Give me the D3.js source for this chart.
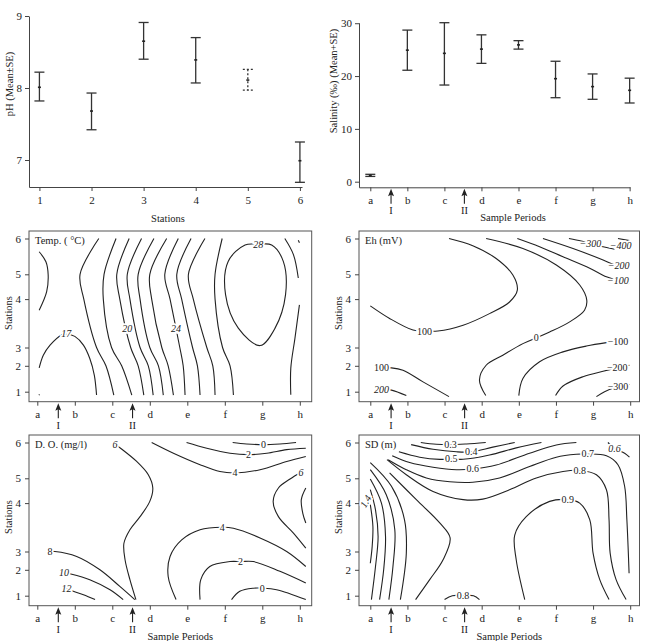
<!DOCTYPE html>
<html>
<head>
<meta charset="utf-8">
<script src="https://cdn.jsdelivr.net/npm/d3@7"></script>
<style>
	body { margin: 0; background: #fff; }
	svg { display: block; font-family: 'Liberation Serif', 'DejaVu Serif', serif; }
	.tick text { font-size: 11px; fill: #222; }
	.tick line, .domain { stroke: #444; }
	.clabel { font-size: 10px; fill: #222; stroke: #fff; stroke-width: 3.5px; paint-order: stroke; }
	.cline { fill: none; stroke: #222; stroke-width: 1.1; }
	.title { font-size: 10.5px; fill: #222; }
</style>
</head>
<body>
<svg width="646" height="641"></svg>
<script>

// ---- data ----
var stations = [1, 2, 3, 4, 5, 6];
var phMean = [8.01, 7.68, 8.65, 8.39, 8.11, 6.99];
var phHi = [8.22, 7.93, 8.91, 8.70, 8.26, 7.25];
var phLo = [7.82, 7.42, 8.40, 8.07, 7.97, 6.69];
var phDashed = [false, false, false, false, true, false];
var phTicks = [7, 8, 9];

var periods = ['a', 'b', 'c', 'd', 'e', 'f', 'g', 'h'];
var salMean = [1.2, 24.9, 24.3, 25.1, 25.9, 19.5, 18.0, 17.3];
var salHi = [1.4, 28.7, 30.1, 27.8, 26.7, 22.8, 20.4, 19.6];
var salLo = [1.0, 21.1, 18.3, 22.4, 25.1, 15.9, 15.6, 14.9];
var salTicks = [0, 10, 20, 30];

// sampling events marked with arrows (position in period units)
var events = [{ at: 0.56, label: 'I' }, { at: 2.54, label: 'II' }];

// Temperature isotherms 18..27 : period where each line crosses these stations
var tempRows = [6, 5, 4, 3, 2, 0.87];
var tempBands = [
	{ level: 18, p: [1.64, 1.14, 1.24, 1.58, 1.83, 2.04] },
	{ level: 19, p: [2.10, 1.78, 1.76, 1.98, 2.25, 2.52] },
	{ level: 20, p: [2.45, 2.12, 2.20, 2.49, 2.69, 2.84] },
	{ level: 21, p: [2.78, 2.40, 2.47, 2.74, 2.96, 3.09] },
	{ level: 22, p: [3.11, 2.69, 2.74, 3.00, 3.23, 3.36] },
	{ level: 23, p: [3.45, 3.00, 3.05, 3.32, 3.49, 3.63] },
	{ level: 24, p: [3.76, 3.40, 3.54, 3.80, 3.89, 3.94] },
	{ level: 25, p: [4.10, 3.72, 3.85, 4.14, 4.27, 4.34] },
	{ level: 26, p: [4.47, 4.03, 4.16, 4.52, 4.68, 4.74] },
	{ level: 27, p: [4.93, 4.74, 4.74, 4.94, 5.14, 5.23] }
];
var tempExtra = [
	[[0.05, 3.77], [0.25, 4.30], [0.29, 4.97], [0.23, 5.35], [0.05, 5.63]],
	[[0.05, 1.92], [0.16, 2.58], [0.34, 3.05], [0.65, 3.26], [0.77, 3.28], [1.0, 3.23], [1.23, 3.05], [1.40, 2.4], [1.52, 1.64], [1.58, 0.87]],
	[[6.60, 6.0], [6.83, 5.55], [6.96, 4.85]],
	[[6.99, 3.88], [6.87, 3.19], [6.76, 1.91], [6.76, 0.88]],
	[[0.04, 0.87], [0.06, 0.89]],
	[[6.96, 5.95], [6.99, 5.88]]
];
var tempLoop28 = [[5.89, 5.84], [5.54, 5.82], [5.09, 5.36], [5.02, 4.18], [5.36, 3.40], [5.94, 3.04], [6.34, 3.40], [6.62, 4.18], [6.56, 5.36], [6.25, 5.82]];
var tempLabels = [
	{ t: '17', p: 0.77, s: 3.28, it: true },
	{ t: '20', p: 2.40, s: 3.39, it: true },
	{ t: '24', p: 3.70, s: 3.39, it: true },
	{ t: '28', p: 5.89, s: 5.84, it: true }
];

// Eh isolines
var ehLines = [
	[[0, 3.86], [0.52, 3.6], [1.15, 3.36], [1.46, 3.34], [1.82, 3.34], [2.50, 3.46], [3.21, 3.70], [3.75, 3.94], [3.96, 4.36], [3.84, 4.97], [3.39, 5.44], [2.76, 5.80], [2.12, 6.0]],
	[[3.11, 0.85], [2.94, 1.45], [3.12, 2.03], [3.57, 2.58], [4.11, 3.08], [4.47, 3.2], [4.83, 3.32], [5.37, 3.53], [5.77, 3.77], [5.83, 3.98], [5.64, 4.57], [5.01, 5.26], [4.11, 5.72], [3.12, 6.0]],
	[[3.96, 6.0], [4.56, 5.77], [5.19, 5.49], [5.91, 5.17], [6.36, 4.9], [6.67, 4.75], [6.97, 4.62]],
	[[4.65, 6.0], [5.46, 5.72], [6.27, 5.40], [6.54, 5.28], [6.69, 5.24], [6.98, 5.19]],
	[[5.35, 6.0], [5.68, 5.93], [5.93, 5.85], [6.27, 5.77], [6.58, 5.70]],
	[[6.67, 6.0], [6.98, 5.94]],
	[[0.30, 1.92], [0.57, 1.92], [0.88, 1.83], [1.42, 1.38], [2.12, 0.81]],
	[[0.30, 1.1], [0.57, 1.06], [0.97, 0.85]],
	[[4.0, 0.85], [4.11, 1.51], [4.56, 2.22], [5.19, 2.76], [5.82, 3.03], [6.36, 3.10], [6.67, 3.13], [6.97, 3.15]],
	[[4.99, 0.85], [5.19, 1.22], [5.73, 1.58], [6.27, 1.79], [6.65, 1.92], [6.98, 2.03]],
	[[6.09, 0.81], [6.31, 1.0], [6.67, 1.19], [6.98, 1.28]]
];
var ehLabels = [
	{ t: '100', p: 1.46, s: 3.34 },
	{ t: '0', p: 4.47, s: 3.2 },
	{ t: '\u2212100', p: 6.67, s: 4.73, it: true },
	{ t: '\u2212200', p: 6.69, s: 5.24, it: true },
	{ t: '\u2212300', p: 5.93, s: 5.85, it: true },
	{ t: '\u2212400', p: 6.74, s: 5.80, it: true },
	{ t: '100', p: 0.30, s: 1.92 },
	{ t: '200', p: 0.30, s: 1.1, it: true },
	{ t: '\u2212100', p: 6.67, s: 3.13 },
	{ t: '\u2212200', p: 6.65, s: 1.92 },
	{ t: '\u2212300', p: 6.67, s: 1.19 }
];

// Dissolved oxygen isolines
var doLines = [
	[[2.12, 5.92], [2.22, 5.84], [2.65, 5.47], [2.96, 5.10], [3.08, 4.61], [3.00, 4.07], [2.74, 3.72], [2.47, 3.45], [2.31, 3.17], [2.34, 2.55], [2.47, 1.62], [2.63, 0.85]],
	[[3.05, 6.0], [3.63, 5.70], [4.34, 5.38], [4.87, 5.19], [5.27, 5.15], [5.94, 5.24], [6.65, 5.47], [7.16, 5.61]],
	[[3.98, 6.0], [4.52, 5.84], [5.14, 5.70], [5.63, 5.66], [6.12, 5.70], [6.65, 5.80], [7.16, 5.84]],
	[[5.21, 6.0], [5.58, 5.96], [6.03, 5.94], [6.47, 5.96], [6.90, 6.0]],
	[[7.16, 3.07], [6.83, 3.38], [6.43, 3.72], [6.29, 4.07], [6.43, 4.61], [6.74, 4.97], [7.03, 5.17]],
	[[7.16, 4.61], [7.04, 4.14], [7.08, 3.79], [7.16, 3.59]],
	[[3.70, 0.85], [3.49, 1.74], [3.54, 2.73], [3.85, 3.24], [4.34, 3.45], [4.93, 3.50], [5.23, 3.48], [5.94, 3.28], [6.65, 3.0], [7.16, 2.18]],
	[[4.34, 0.85], [4.36, 1.62], [4.60, 2.18], [5.14, 2.45], [5.42, 2.45], [5.76, 2.45], [6.47, 1.94], [7.16, 1.49]],
	[[5.18, 0.85], [5.40, 1.17], [5.76, 1.29], [6.0, 1.29], [6.38, 1.23], [7.16, 0.85]],
	[[0.34, 3.0], [0.47, 3.0], [1.05, 2.73], [1.67, 2.0], [2.20, 1.36], [2.60, 0.85]],
	[[0.71, 1.90], [0.87, 1.85], [1.40, 1.62], [1.94, 1.23], [2.29, 0.85]],
	[[0.78, 1.29], [0.96, 1.17], [1.23, 1.04], [1.54, 0.85]]
];
var doLabels = [
	{ t: '6', p: 2.07, s: 5.94, it: true },
	{ t: '4', p: 5.27, s: 5.15 },
	{ t: '2', p: 5.63, s: 5.66 },
	{ t: '0', p: 6.03, s: 5.94 },
	{ t: '6', p: 7.03, s: 5.17, it: true },
	{ t: '4', p: 4.93, s: 3.50 },
	{ t: '2', p: 5.42, s: 2.45 },
	{ t: '0', p: 6.0, s: 1.29 },
	{ t: '8', p: 0.34, s: 3.0 },
	{ t: '10', p: 0.71, s: 1.90, it: true },
	{ t: '12', p: 0.78, s: 1.29, it: true }
];

// Secchi depth isolines
var sdLines = [
	[[1.36, 6.0], [1.78, 5.95], [2.16, 5.94], [2.59, 5.96], [3.11, 6.0]],
	[[1.10, 5.94], [1.69, 5.81], [2.32, 5.74], [2.72, 5.74], [3.30, 5.87], [3.89, 6.0]],
	[[0.77, 5.74], [1.33, 5.59], [1.87, 5.53], [2.18, 5.54], [2.50, 5.53], [3.21, 5.65], [3.93, 5.85], [4.61, 6.0]],
	[[0.59, 5.63], [1.06, 5.44], [1.69, 5.31], [2.32, 5.24], [2.76, 5.26], [3.39, 5.37], [4.29, 5.70], [5.01, 5.93], [5.55, 6.0]],
	[[0.48, 5.52], [0.97, 5.24], [1.51, 5.01], [2.14, 4.86], [2.76, 4.84], [3.48, 5.01], [4.29, 5.33], [5.01, 5.59], [5.55, 5.67], [5.86, 5.68], [6.36, 5.63], [6.67, 5.38], [6.85, 4.68], [6.91, 3.66], [6.97, 1.87]],
	[[0.45, 5.52], [0.97, 5.10], [1.69, 4.47], [2.50, 4.14], [3.03, 4.16], [3.75, 4.54], [4.47, 5.01], [5.19, 5.19], [5.64, 5.22], [6.09, 5.10], [6.36, 4.54], [6.43, 3.66], [6.46, 2.91], [6.62, 1.62], [6.89, 0.85]],
	[[4.16, 0.85], [3.93, 2.55], [3.89, 3.34], [4.20, 3.72], [4.83, 4.07], [5.32, 4.14], [5.64, 4.0], [5.91, 3.66], [6.0, 2.91], [6.18, 1.62], [6.43, 0.85]],
	[[0.52, 5.15], [1.24, 4.14], [1.87, 3.59], [2.15, 3.28], [1.96, 2.55], [1.60, 1.62], [1.22, 0.85]],
	[[0.0, 5.44], [0.57, 4.68], [0.92, 3.66], [0.97, 2.91], [0.81, 0.85]],
	[[0.0, 5.24], [0.43, 4.34], [0.66, 3.45], [0.61, 2.18], [0.50, 0.85]],
	[[0.0, 4.97], [0.30, 4.0], [0.41, 3.31], [0.36, 2.0], [0.25, 0.85]],
	[[0.0, 4.54], [0.14, 3.86], [0.21, 3.31], [0.14, 2.18], [0.03, 0.85]],
	[[0.0, 3.97], [0.07, 3.52], [0.05, 3.10], [0.0, 2.36]],
	[[6.40, 6.0], [6.58, 5.84], [6.85, 5.70], [6.98, 5.59]],
	[[2.0, 0.85], [2.21, 1.0], [2.50, 1.0], [2.78, 1.0], [2.94, 0.85]]
];
var sdLabels = [
	{ t: '0.3', p: 2.16, s: 5.94 },
	{ t: '0.4', p: 2.72, s: 5.74 },
	{ t: '0.5', p: 2.18, s: 5.54 },
	{ t: '0.6', p: 2.76, s: 5.26 },
	{ t: '0.7', p: 5.86, s: 5.68 },
	{ t: '0.8', p: 5.64, s: 5.22 },
	{ t: '0.9', p: 5.32, s: 4.14 },
	{ t: '0.6', p: 6.58, s: 5.84, it: true },
	{ t: '0.8', p: 2.50, s: 1.0 },
	{ t: '1.4', p: -0.13, s: 4.07, rot: -60, it: true }
];

// ---- layout ----
var svg = d3.select('svg');
var ink = '#222';
var intFmt = d3.format('d');

// vertical placement of stations inside a contour frame (px from frame top)
var stationOffsets = [160.7, 134.8, 116.5, 68.1, 43.3, 7.5];

function styleAxis(g) {
	g.selectAll('.tick text').attr('font-family', "'Liberation Serif', serif");
}

function drawEvents(g, x, y0, withTitle, titleX) {
	events.forEach(function (e) {
		var px = x(e.at);
		g.append('line').attr('x1', px).attr('x2', px).attr('y1', y0 + 6).attr('y2', y0 + 16.5)
			.attr('stroke', ink).attr('stroke-width', 1.1);
		g.append('path')
			.attr('d', 'M' + px + ',' + (y0 + 1.5) + 'L' + (px - 3) + ',' + (y0 + 9) + 'L' + px + ',' + (y0 + 7.5) + 'L' + (px + 3) + ',' + (y0 + 9) + 'Z')
			.attr('fill', ink);
		g.append('text').attr('x', px).attr('y', y0 + 27).attr('text-anchor', 'middle')
			.attr('class', 'title').text(e.label);
	});
	if (withTitle) {
		g.append('text').attr('x', titleX).attr('y', y0 + 34).attr('text-anchor', 'middle')
			.attr('class', 'title').text('Sample Periods');
	}
}

function yTitle(x, y, txt) {
	svg.append('text').attr('class', 'title')
		.attr('transform', 'translate(' + x + ',' + y + ') rotate(-90)')
		.attr('text-anchor', 'middle').attr('dy', '0.35em').text(txt);
}

// error bar panel
function errorBars(g, x, y, cats, mean, hi, lo, dashed) {
	cats.forEach(function (c, i) {
		var px = x(c);
		var dash = dashed && dashed[i] ? '2,2' : null;
		var grp = g.append('g').attr('stroke', '#333').attr('stroke-width', 1.3).attr('stroke-dasharray', dash);
		grp.append('line').attr('x1', px).attr('x2', px).attr('y1', y(hi[i])).attr('y2', y(lo[i]));
		grp.append('line').attr('x1', px - 5).attr('x2', px + 5).attr('y1', y(hi[i])).attr('y2', y(hi[i]));
		grp.append('line').attr('x1', px - 5).attr('x2', px + 5).attr('y1', y(lo[i])).attr('y2', y(lo[i]));
		g.append('line').attr('x1', px - 1.5).attr('x2', px + 1.5).attr('y1', y(mean[i])).attr('y2', y(mean[i]))
			.attr('stroke', '#222').attr('stroke-width', 1.6);
	});
}

// --- pH by station ---
(function () {
	var x = d3.scaleLinear().domain([0.8, 6.04]).range([29, 302]);
	var y = d3.scaleLinear().domain([6.625, 9]).range([187, 16]);
	var g = svg.append('g');
	g.append('g').attr('transform', 'translate(0,187)')
		.call(d3.axisBottom(x).tickValues(stations).tickFormat(intFmt).tickSize(4).tickSizeOuter(0).tickPadding(5)).call(styleAxis);
	g.append('g').attr('transform', 'translate(29,0)')
		.call(d3.axisLeft(y).tickValues(phTicks).tickFormat(intFmt).tickSize(4).tickSizeOuter(0).tickPadding(3)).call(styleAxis);
	errorBars(g, x, y, stations, phMean, phHi, phLo, phDashed);
	g.append('text').attr('class', 'title').attr('x', 168).attr('y', 222).attr('text-anchor', 'middle').text('Stations');
	yTitle(9, 84, 'pH  (Mean\u00b1SE)');
})();

// --- salinity by period ---
(function () {
	var idx = d3.range(periods.length);
	var x = d3.scaleLinear().domain([-0.305, 7.01]).range([359, 630]);
	var y = d3.scaleLinear().domain([-1.06, 30.1]).range([187.3, 22.7]);
	var g = svg.append('g');
	g.append('g').attr('transform', 'translate(0,187.3)')
		.call(d3.axisBottom(x).tickValues(idx).tickFormat(function (i) { return periods[i]; })
			.tickSize(4).tickSizeOuter(0).tickPadding(5)).call(styleAxis);
	g.append('g').attr('transform', 'translate(359,0)')
		.call(d3.axisLeft(y).tickValues(salTicks).tickFormat(intFmt).tickSize(4).tickSizeOuter(0).tickPadding(3)).call(styleAxis);
	errorBars(g, x, y, idx, salMean, salHi, salLo, null);
	drawEvents(g, x, 187.3, true, 513);
	yTitle(333, 81, 'Salinity (\u2030)  (Mean+SE)');
})();

// --- contour panels ---
function contourPanel(o) {
	var x = d3.scaleLinear().domain([0, 7]).range(o.xr);
	var y = d3.scaleLinear().domain(stations).range(stationOffsets.map(function (v) { return o.top + v; }));
	var g = svg.append('g');

	g.append('rect').attr('x', o.left).attr('y', o.top).attr('width', o.right - o.left).attr('height', o.bottom - o.top)
		.attr('fill', 'none').attr('stroke', '#555').attr('stroke-width', 1);

	g.append('g').attr('transform', 'translate(' + o.left + ',0)')
		.call(d3.axisLeft(y).tickValues(stations).tickFormat(intFmt).tickSize(4).tickSizeOuter(0).tickPadding(4))
		.call(styleAxis).select('.domain').remove();
	g.append('g').attr('transform', 'translate(0,' + o.bottom + ')')
		.call(d3.axisBottom(x).tickValues(d3.range(8)).tickFormat(function (i) { return periods[i]; })
			.tickSize(4).tickSizeOuter(0).tickPadding(5))
		.call(styleAxis).select('.domain').remove();

	var line = d3.line().x(function (d) { return x(d[0]); }).y(function (d) { return y(d[1]); })
		.curve(d3.curveCatmullRom.alpha(0.5));
	g.selectAll('path.cline').data(o.lines).enter().append('path').attr('class', 'cline').attr('d', line);
	if (o.closed) {
		var closedLine = d3.line().x(function (d) { return x(d[0]); }).y(function (d) { return y(d[1]); })
			.curve(d3.curveCatmullRomClosed.alpha(0.5));
		o.closed.forEach(function (c) { g.append('path').attr('class', 'cline').attr('d', closedLine(c)); });
	}

	g.selectAll('text.clabel').data(o.labels).enter().append('text').attr('class', 'clabel')
		.attr('text-anchor', 'middle').attr('dy', '0.35em')
		.attr('font-style', function (d) { return d.it ? 'italic' : null; })
		.attr('transform', function (d) { return 'translate(' + x(d.p) + ',' + y(d.s) + ')' + (d.rot ? ' rotate(' + d.rot + ')' : ''); })
		.text(function (d) { return d.t; });

	g.append('text').attr('class', 'title').attr('x', o.left + 6).attr('y', o.top + 13).attr('font-size', '11px').text(o.name);

	drawEvents(g, x, o.bottom, o.periodTitle, (o.left + o.right) / 2 + 10);
	yTitle(o.left - 21, o.top + 82, 'Stations');
}

var tempLines = tempBands.map(function (b) {
	return b.p.map(function (p, i) { return [p, tempRows[i]]; });
}).concat(tempExtra);

contourPanel({ left: 29, right: 311.7, top: 231, bottom: 401.7, xr: [37.3, 299.8], name: 'Temp. ( \u00b0C)',
	lines: tempLines, closed: [tempLoop28], labels: tempLabels, periodTitle: false });
contourPanel({ left: 359, right: 639.5, top: 231, bottom: 401.7, xr: [370.3, 630.2], name: 'Eh (mV)',
	lines: ehLines, labels: ehLabels, periodTitle: false });
contourPanel({ left: 29, right: 311.7, top: 435, bottom: 605.7, xr: [37.3, 299.8], name: 'D. O. (mg/l)',
	lines: doLines, labels: doLabels, periodTitle: true });
contourPanel({ left: 359, right: 639.5, top: 435, bottom: 605.7, xr: [370.3, 630.2], name: 'SD (m)',
	lines: sdLines, labels: sdLabels, periodTitle: true });

</script>
</body>
</html>
